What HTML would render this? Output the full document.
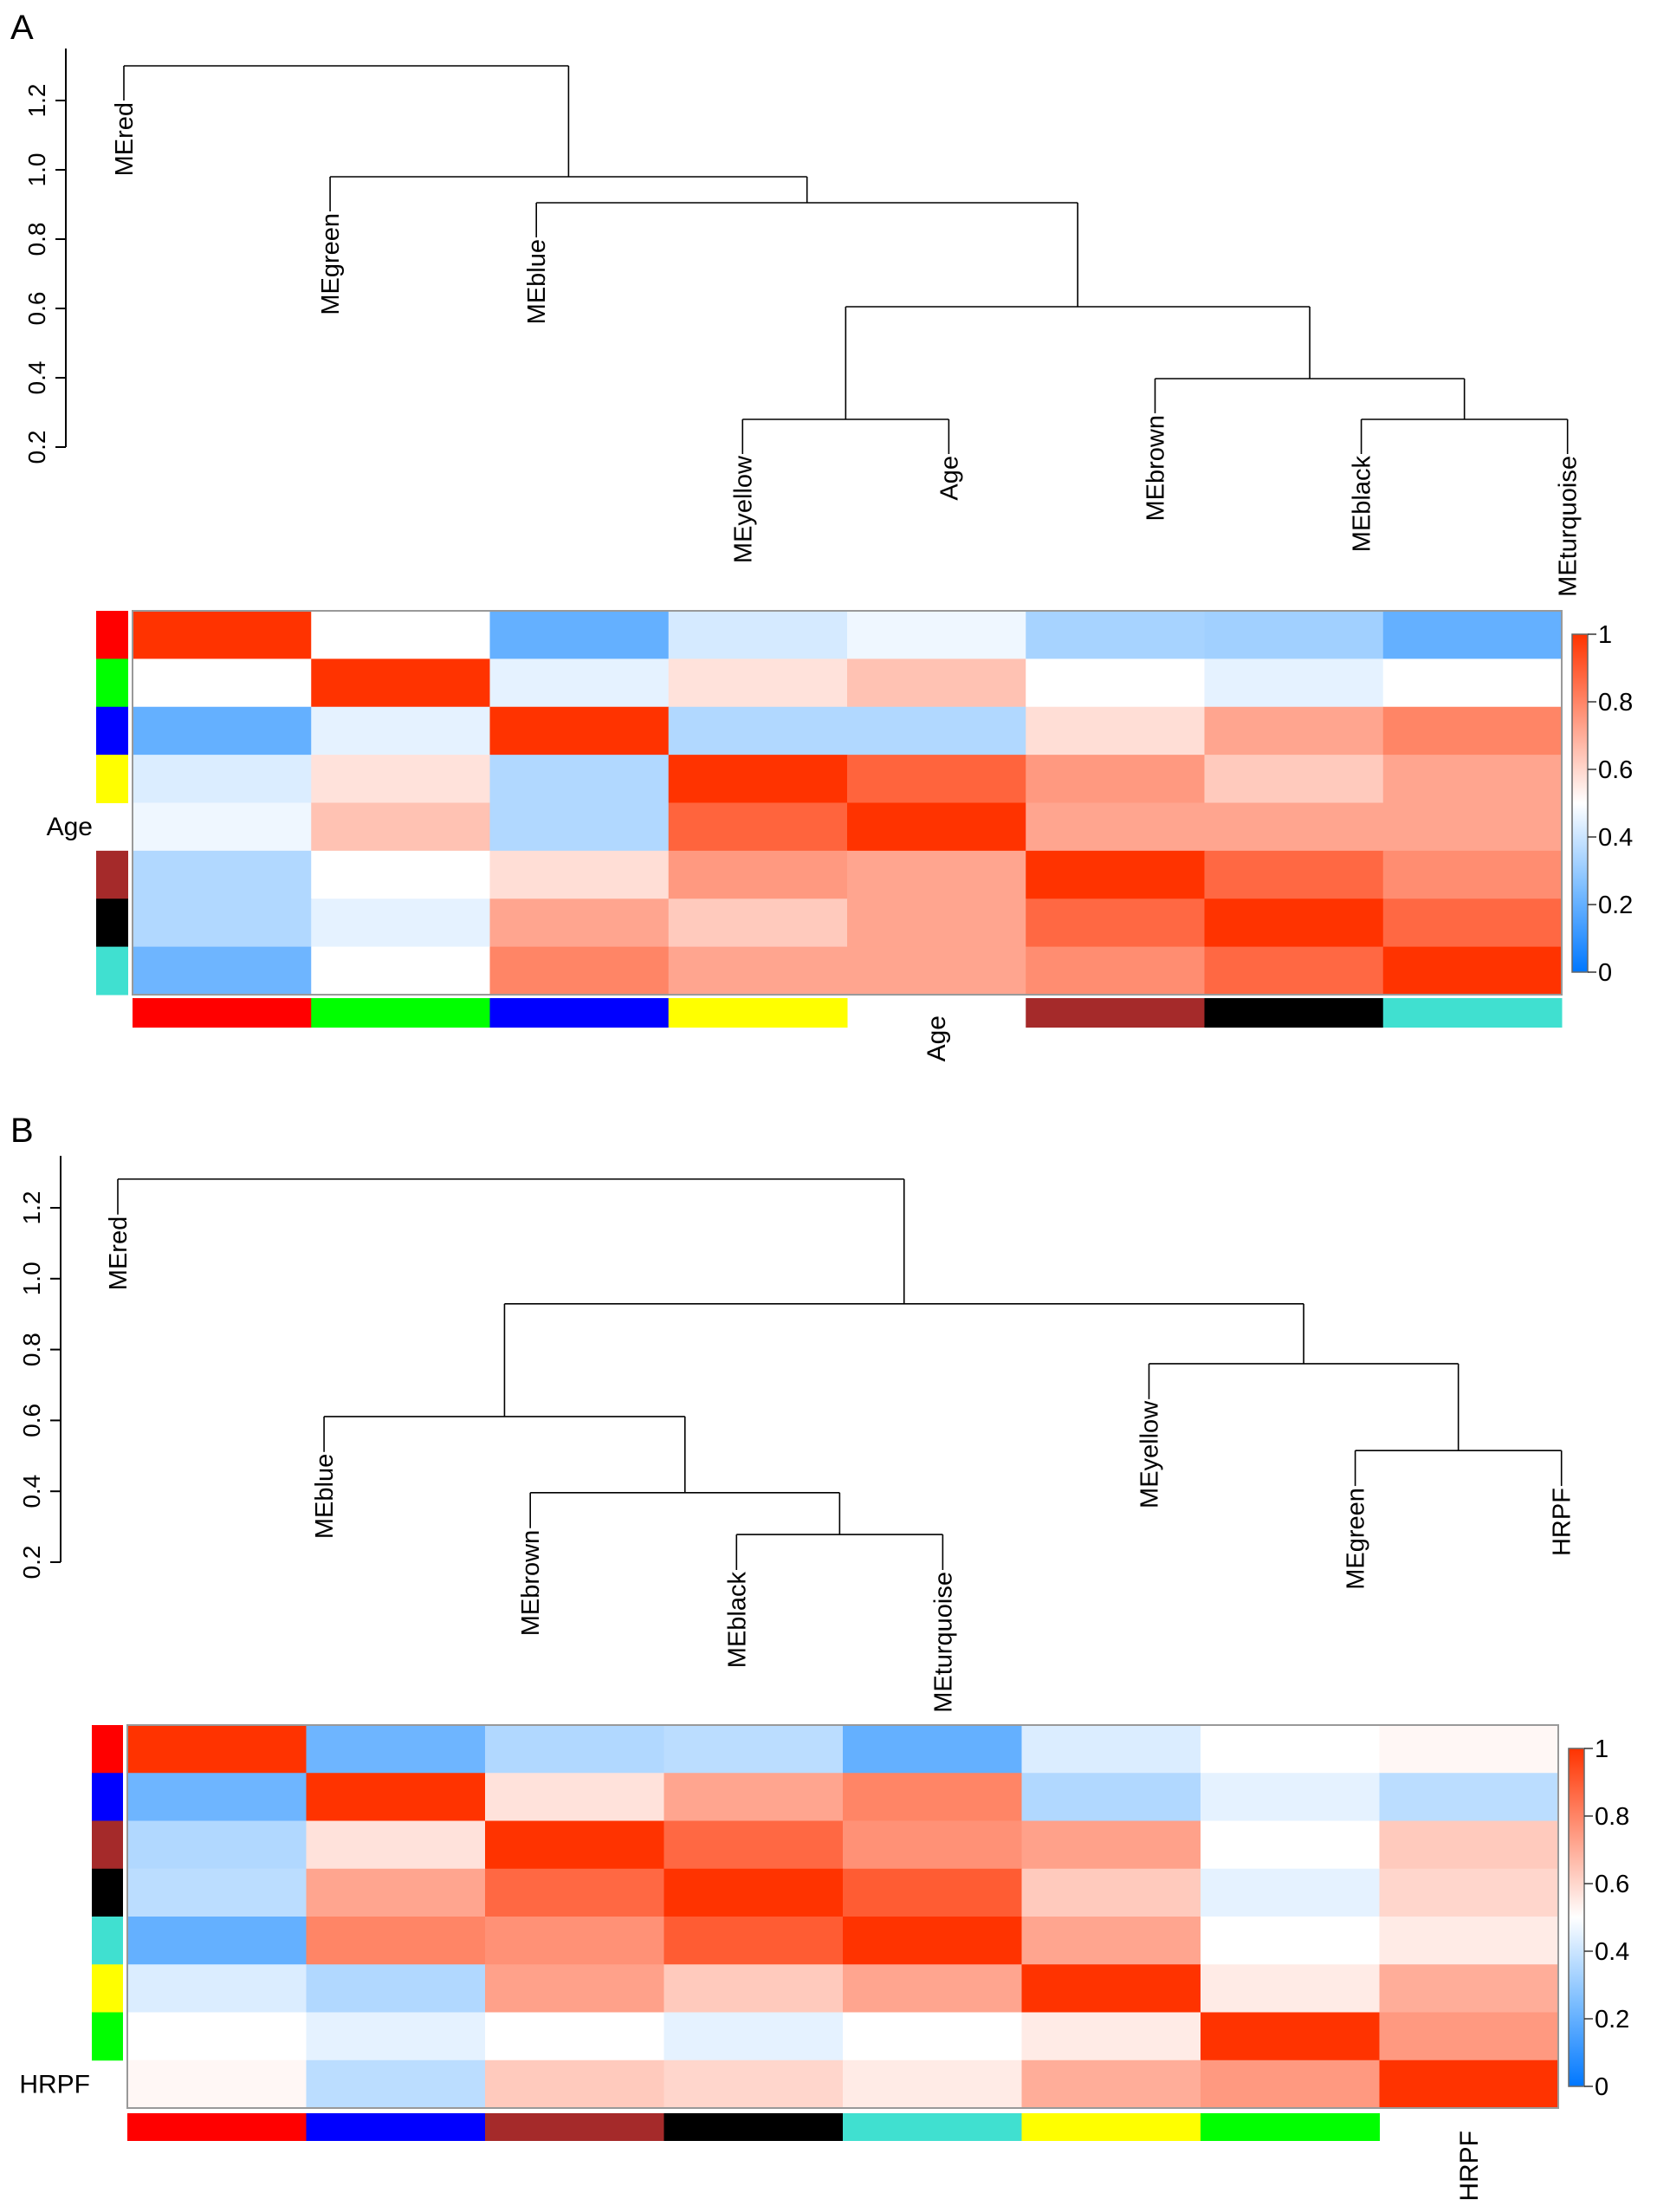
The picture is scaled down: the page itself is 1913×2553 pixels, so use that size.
<!DOCTYPE html>
<html><head><meta charset="utf-8"><style>
html,body{margin:0;padding:0;background:#fff;}
svg{display:block;font-family:"Liberation Sans",Arial,sans-serif;}
</style></head><body>
<svg id="fig" width="1913" height="2553" viewBox="0 0 1913 2553" xmlns="http://www.w3.org/2000/svg">
<defs>
<linearGradient id="cbar" x1="0" y1="1" x2="0" y2="0">
<stop offset="0" stop-color="rgb(0,119,255)"/><stop offset="0.25" stop-color="rgb(125,190,255)"/><stop offset="0.5" stop-color="rgb(255,255,255)"/><stop offset="0.75" stop-color="rgb(255,153,128)"/><stop offset="1" stop-color="rgb(255,51,0)"/>
</linearGradient>
</defs>
<text x="12" y="45" font-size="40">A</text>
<text x="12" y="1318" font-size="40">B</text>
<g id="gA"></g>
<g id="gB"></g>
</svg>
<script>
// ---------- Panel A data ----------
const leavesA = ["MEred","MEgreen","MEblue","MEyellow","Age","MEbrown","MEblack","MEturquoise"];
// tree: [leftChild, rightChild, height]; leaves are indices
const treeA = [0,[1,[2,[[3,4,0.28],[5,[6,7,0.28],0.3975],0.605],0.905],0.98],1.30];
const rowColorsA = ["#ff0000","#00ff00","#0000ff","#ffff00",null,"#a52a2a","#000000","#40e0d0"];
const colColorsA = ["#ff0000","#00ff00","#0000ff","#ffff00",null,"#a52a2a","#000000","#40e0d0"];
const heatA = [
[1,0.5,0.2,0.42,0.47,0.33,0.32,0.2],
[0.5,1,0.45,0.57,0.65,0.5,0.45,0.5],
[0.2,0.45,1,0.35,0.35,0.58,0.72,0.8],
[0.43,0.57,0.35,1,0.88,0.75,0.63,0.72],
[0.47,0.65,0.35,0.88,1,0.72,0.72,0.72],
[0.35,0.5,0.58,0.75,0.72,1,0.87,0.78],
[0.35,0.45,0.72,0.63,0.72,0.87,1,0.87],
[0.22,0.5,0.8,0.72,0.72,0.78,0.87,1]];
// ---------- Panel B data ----------
const leavesB = ["MEred","MEblue","MEbrown","MEblack","MEturquoise","MEyellow","MEgreen","HRPF"];
const treeB = [0,[[1,[2,[3,4,0.278],0.396],0.611],[5,[6,7,0.515],0.76],0.929],1.281];
const rowColorsB = ["#ff0000","#0000ff","#a52a2a","#000000","#40e0d0","#ffff00","#00ff00",null];
const colColorsB = ["#ff0000","#0000ff","#a52a2a","#000000","#40e0d0","#ffff00","#00ff00",null];
const heatB = [
[1,0.22,0.35,0.37,0.2,0.43,0.5,0.52],
[0.22,1,0.57,0.72,0.8,0.35,0.45,0.37],
[0.35,0.57,1,0.87,0.77,0.73,0.5,0.63],
[0.37,0.72,0.87,1,0.9,0.63,0.45,0.6],
[0.2,0.8,0.77,0.9,1,0.72,0.5,0.55],
[0.43,0.35,0.73,0.63,0.72,1,0.55,0.7],
[0.5,0.45,0.5,0.45,0.5,0.55,1,0.75],
[0.52,0.37,0.63,0.6,0.55,0.7,0.75,1]];
const yTicks = [0.2,0.4,0.6,0.8,1.0,1.2];
const cbTicks = [0,0.2,0.4,0.6,0.8,1];
const HANG = 0.1;

const NS="http://www.w3.org/2000/svg";
function mk(parent,tag,attrs){const e=document.createElementNS(NS,tag);for(const k in attrs)e.setAttribute(k,attrs[k]);parent.appendChild(e);return e;}
function col(v){
  const st=[[0,0,119,255],[0.25,125,190,255],[0.5,255,255,255],[0.75,255,153,128],[1,255,51,0]];
  v=Math.max(0,Math.min(1,v));
  for(let i=0;i<st.length-1;i++){const a=st[i],b=st[i+1];if(v<=b[0]){const t=(v-a[0])/(b[0]-a[0]);
    return "rgb("+[1,2,3].map(j=>Math.round(a[j]+t*(b[j]-a[j]))).join(",")+")";}}
  return "rgb(255,51,0)";
}

function panel(g,cfg){
  const hY=v=>cfg.yBase-(v-0.2)*cfg.yPer;
  const leafX=i=>cfg.leaf0+i*cfg.leafStep;
  let ax=mk(g,"line",{x1:cfg.axX,x2:cfg.axX,y1:hY(1.2)-60,y2:hY(0.2),stroke:"#000","stroke-width":2});
  
  
  yTicks.forEach(t=>{
    const tk=mk(g,"line",{x1:cfg.axX-12,x2:cfg.axX,y1:hY(t),y2:hY(t),stroke:"#000","stroke-width":2});
    
    
    const tx=mk(g,"text",{x:0,y:0,"font-size":28,"text-anchor":"middle",transform:`translate(${cfg.axX-24},${hY(t)}) rotate(-90)`});
    tx.textContent=t.toFixed(1);
    
    
  });
  function draw(node,parentH){
    if(typeof node==="number"){
      const x=leafX(node), top=hY(parentH), end=hY(parentH-HANG);
      const l=mk(g,"line",{x1:x,x2:x,y1:top,y2:end,stroke:"#000","stroke-width":1.6});
      
      
      const t=mk(g,"text",{x:0,y:0,"font-size":29,"text-anchor":"end",transform:`translate(${x+10},${end+2}) rotate(-90)`});
      t.textContent=cfg.leaves[node];
      
      
      return x;
    }
    const h=node[2];
    const xl=draw(node[0],h), xr=draw(node[1],h);
    const y=hY(h);
    const hl=mk(g,"line",{x1:xl,x2:xr,y1:y,y2:y,stroke:"#000","stroke-width":1.6});
    
    
    const xm=(xl+xr)/2;
    if(parentH!==null){
      const v=mk(g,"line",{x1:xm,x2:xm,y1:hY(parentH),y2:y,stroke:"#000","stroke-width":1.6});
      
      
    }
    return xm;
  }
  draw(cfg.tree,null);
  const n=cfg.heat.length, cw=(cfg.hx1-cfg.hx0)/n, rh=(cfg.hy1-cfg.hy0)/n;
  cfg.heat.forEach((row,r)=>row.forEach((v,c)=>{
    const cell=mk(g,"rect",{x:cfg.hx0+c*cw,y:cfg.hy0+r*rh,width:cw+0.5,height:rh+0.5,fill:col(v)});
    
    
  }));
  const bd=mk(g,"rect",{x:cfg.hx0,y:cfg.hy0,width:cfg.hx1-cfg.hx0,height:cfg.hy1-cfg.hy0,fill:"none",stroke:"#999","stroke-width":2});
  
  
  cfg.rowColors.forEach((c,r)=>{
    if(c){const b=mk(g,"rect",{x:cfg.rbx0,y:cfg.hy0+r*rh,width:cfg.rbx1-cfg.rbx0,height:rh+0.5,fill:c});
      
      }
    else{const t=mk(g,"text",{x:cfg.rowLabelX,y:cfg.hy0+r*rh+rh/2+10,"font-size":30,"text-anchor":"end"});
      t.textContent=cfg.trait;
      
      }
  });
  cfg.colColors.forEach((c,i)=>{
    if(c){const b=mk(g,"rect",{x:cfg.hx0+i*cw,y:cfg.cby0,width:cw+0.5,height:cfg.cby1-cfg.cby0,fill:c});
      
      }
    else{const cx=cfg.hx0+i*cw+cw/2;
      const t=mk(g,"text",{x:0,y:0,"font-size":30,"text-anchor":"end",transform:`translate(${cx+10},${cfg.cby0+20}) rotate(-90)`});
      t.textContent=cfg.trait;
      
      }
  });
  const cb=mk(g,"rect",{x:cfg.cbx,y:cfg.cby_top,width:18,height:cfg.cby_bot-cfg.cby_top,fill:"url(#cbar)",stroke:"#666","stroke-width":1.5});
  
  
  cbTicks.forEach(t=>{
    const y=cfg.cby_bot-t*(cfg.cby_bot-cfg.cby_top);
    const l=mk(g,"line",{x1:cfg.cbx+18,x2:cfg.cbx+28,y1:y,y2:y,stroke:"#333","stroke-width":1.5});
    
    
    const tx=mk(g,"text",{x:cfg.cbx+30,y:y+10,"font-size":29});
    tx.textContent=String(t);
    
    
  });
}
panel(document.getElementById("gA"),{
  leaves:leavesA,tree:treeA,heat:heatA,rowColors:rowColorsA,colColors:colColorsA,trait:"Age",
  yBase:516,yPer:400,axX:76,leaf0:143,leafStep:238.1,
  hx0:153,hx1:1803,hy0:705,hy1:1148,rbx0:111,rbx1:148,rowLabelX:107,cby0:1152,cby1:1186,
  cbx:1815,cby_top:732,cby_bot:1122});
panel(document.getElementById("gB"),{
  leaves:leavesB,tree:treeB,heat:heatB,rowColors:rowColorsB,colColors:colColorsB,trait:"HRPF",
  yBase:1803,yPer:409,axX:70,leaf0:136,leafStep:238.1,
  hx0:147,hx1:1799,hy0:1991,hy1:2433,rbx0:106,rbx1:142,rowLabelX:104,cby0:2439,cby1:2471,
  cbx:1811,cby_top:2018,cby_bot:2408});
</script>
</body></html>
